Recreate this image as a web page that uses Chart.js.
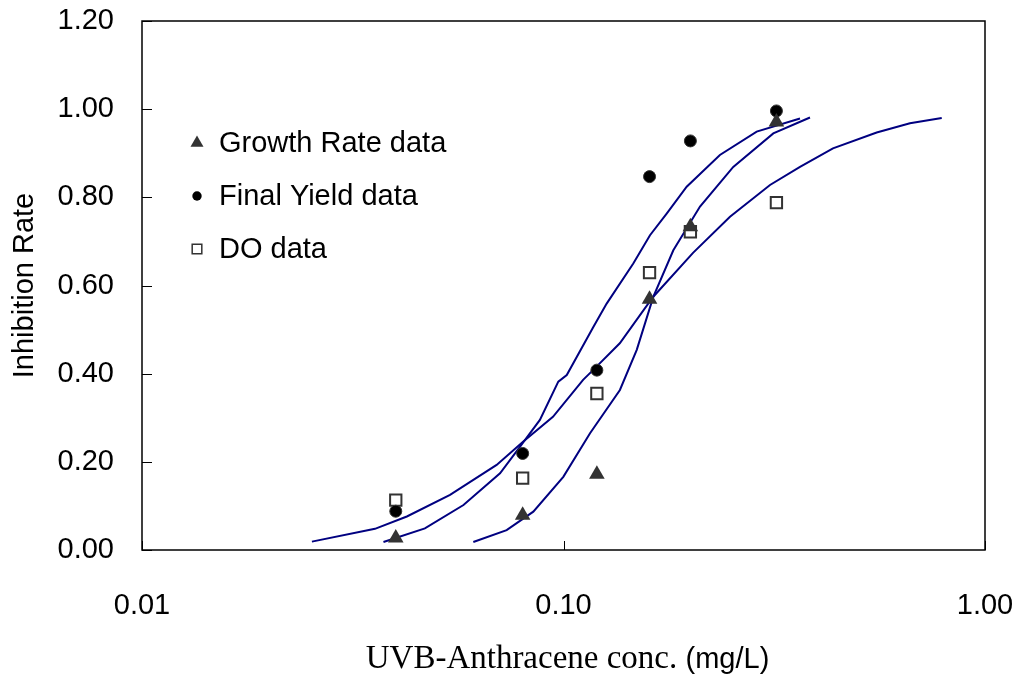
<!DOCTYPE html>
<html>
<head>
<meta charset="utf-8">
<script src="https://cdn.jsdelivr.net/npm/chart.js@4.4.1/dist/chart.umd.min.js"></script>
<style>
	body	{ margin: 0; background: #fff; }
	canvas	{ display: block; }
</style>
</head>
<body>
<canvas id="chart" width="1013" height="678"></canvas>
<script>
// measured points
const conc			= [ 0.04, 0.08, 0.12, 0.16, 0.20, 0.32 ];
const growthRate	= [ 0.027, 0.079, 0.172, 0.569, 0.733, 0.971 ];
const finalYield	= [ 0.088, 0.219, 0.408, 0.847, 0.928, 0.996 ];
const doData		= [ 0.113, 0.163, 0.355, 0.629, 0.722, 0.788 ];

// fitted curves
const growthFitX	= [ 0.0611, 0.0733, 0.0848, 0.0999, 0.1156, 0.1361, 0.1492, 0.1633, 0.1822, 0.2108, 0.2528, 0.3146, 0.3844 ];
const growthFitY	= [ 0.018, 0.045, 0.087, 0.166, 0.265, 0.363, 0.454, 0.574, 0.680, 0.779, 0.869, 0.945, 0.981 ];

const yieldFitX		= [ 0.0374, 0.0469, 0.0579, 0.0707, 0.0788, 0.0879, 0.0972, 0.1018, 0.1177, 0.1266, 0.1464, 0.1604, 0.1757, 0.196, 0.235, 0.2873, 0.364 ];
const yieldFitY		= [ 0.018, 0.049, 0.102, 0.174, 0.234, 0.295, 0.382, 0.397, 0.506, 0.559, 0.650, 0.714, 0.763, 0.824, 0.896, 0.949, 0.979 ];

const doFitX		= [ 0.0253, 0.0357, 0.0425, 0.0538, 0.0694, 0.0803, 0.0944, 0.1113, 0.1175, 0.136, 0.1631, 0.2029, 0.2483, 0.309, 0.364, 0.4358, 0.5534, 0.6637, 0.7895 ];
const doFitY		= [ 0.019, 0.048, 0.076, 0.125, 0.193, 0.246, 0.302, 0.386, 0.408, 0.469, 0.574, 0.674, 0.756, 0.828, 0.869, 0.911, 0.947, 0.968, 0.980 ];

const xTicks	= [ 0.01, 0.1, 1 ];
const yTicks	= [ 0, 0.2, 0.4, 0.6, 0.8, 1.0, 1.2 ];

const LINE_COLOR	= '#000080';
const FONT		= 'Liberation Sans';

function pts( xs, ys ) {
	return xs.map( ( x, i ) => ( { x: x, y: ys[ i ] } ) );
}

function fitLine( xs, ys ) {
	return {
		data: pts( xs, ys ),
		showLine: true,
		borderColor: LINE_COLOR,
		borderWidth: 2,
		pointRadius: 0,
		tension: 0,
		fill: false
	};
}

// fixed axis box sizes, no label overflow padding
function fixSize( s, w, h ) {
	if ( w ) s.width = w;
	if ( h ) s.height = h;
	s.paddingTop	= 0;
	s.paddingBottom	= 0;
	s.paddingLeft	= 0;
	s.paddingRight	= 0;
}

// box round the plot and the short inside ticks
const framePlugin = {
	id: 'frame',
	beforeDatasetsDraw( chart ) {
		const ctx	= chart.ctx;
		const a		= chart.chartArea;
		const xs	= chart.scales.x;
		const ys	= chart.scales.y;

		ctx.save();
		ctx.strokeStyle	= '#000';
		ctx.lineWidth	= 1.5;
		ctx.strokeRect( a.left, a.top, a.right - a.left, a.bottom - a.top );

		ctx.lineWidth	= 1;
		ctx.beginPath();
		for ( const v of yTicks ) {
			let y = Math.round( ys.getPixelForValue( v ) ) + 0.5;
			ctx.moveTo( a.left, y );
			ctx.lineTo( a.left + 10, y );
		}
		for ( const v of xTicks ) {
			let x = Math.round( xs.getPixelForValue( v ) ) + 0.5;
			ctx.moveTo( x, a.bottom );
			ctx.lineTo( x, a.bottom - 9 );
		}
		ctx.stroke();
		ctx.restore();
	}
};

// legend inside the plot, upper left
const legendPlugin = {
	id: 'innerLegend',
	afterDraw( chart ) {
		const ctx	= chart.ctx;
		const a		= chart.chartArea;
		const sizes	= [ 7.5, 4.7, 6.8 ];

		ctx.save();
		for ( let i = 0; i < 3; i++ ) {
			const ds	= chart.data.datasets[ i ];
			const y		= a.top + 122 + i * 53;
			const x		= a.left + 55;

			ctx.fillStyle	= ds.backgroundColor;
			ctx.strokeStyle	= ds.borderColor;
			ctx.lineWidth	= 1.5;
			Chart.helpers.drawPoint( ctx, {
				pointStyle: ds.pointStyle,
				radius: sizes[ i ],
				rotation: 0,
				borderWidth: ds.pointStyle === 'rect' ? 1.5 : 0
			}, x, y );

			ctx.fillStyle		= '#000';
			ctx.font			= '29px ' + FONT;
			ctx.textBaseline	= 'middle';
			ctx.textAlign		= 'left';
			ctx.fillText( ds.label, x + 22, y + 1 );
		}
		ctx.restore();
	}
};

// x title: serif part then sans part, as in the source
const xTitlePlugin = {
	id: 'xTitle',
	afterDraw( chart ) {
		const ctx	= chart.ctx;
		const a		= chart.chartArea;
		const p1	= 'UVB-Anthracene conc. ';
		const p2	= '(mg/L)';
		const f1	= '33px "Liberation Serif"';
		const f2	= '29px ' + FONT;

		ctx.save();
		ctx.fillStyle		= '#000';
		ctx.textBaseline	= 'alphabetic';
		ctx.textAlign		= 'left';
		ctx.font	= f1;
		let w1		= ctx.measureText( p1 ).width;
		ctx.font	= f2;
		let w2		= ctx.measureText( p2 ).width;
		let x0		= ( a.left + a.right ) / 2 + 4 - ( w1 + w2 ) / 2;

		ctx.font	= f1;
		ctx.fillText( p1, x0, 668 );
		ctx.font	= f2;
		ctx.fillText( p2, x0 + w1, 668 );
		ctx.restore();
	}
};

Chart.defaults.font.family	= FONT;
Chart.defaults.color		= '#000';

const datasets = [
	{
		label: 'Growth Rate data',
		data: pts( conc, growthRate ),
		pointStyle: 'triangle',
		pointRadius: 9,
		backgroundColor: '#333333',
		borderColor: '#333333',
		borderWidth: 0,
		showLine: false
	},
	{
		label: 'Final Yield data',
		data: pts( conc, finalYield ),
		pointStyle: 'circle',
		pointRadius: 6,
		backgroundColor: '#000000',
		borderColor: '#333333',
		borderWidth: 1,
		showLine: false
	},
	{
		label: 'DO data',
		data: pts( conc, doData ),
		pointStyle: 'rect',
		pointRadius: 8,
		backgroundColor: '#ffffff',
		borderColor: '#333333',
		borderWidth: 2,
		showLine: false
	},
	fitLine( growthFitX, growthFitY ),
	fitLine( yieldFitX, yieldFitY ),
	fitLine( doFitX, doFitY )
];

new Chart( document.getElementById( 'chart' ), {
	type: 'scatter',
	data: { datasets: datasets },
	options: {
		responsive: false,
		animation: false,
		devicePixelRatio: 1,
		layout: {
			autoPadding: false,
			padding: { left: 0, top: 21, right: 28, bottom: 0 }
		},
		plugins: {
			legend: { display: false },
			tooltip: { enabled: false }
		},
		scales: {
			x: {
				type: 'logarithmic',
				min: 0.01,
				max: 1,
				grid: { display: false, drawTicks: false },
				border: { display: false },
				afterBuildTicks: s => { s.ticks = xTicks.map( v => ( { value: v } ) ); },
				afterFit: s => fixSize( s, 0, 128 ),
				ticks: {
					padding: 39,
					font: { size: 29 },
					callback: v => Number( v ).toFixed( 2 )
				}
			},
			y: {
				min: 0,
				max: 1.2,
				grid: { display: false, drawTicks: false },
				border: { display: false },
				afterBuildTicks: s => { s.ticks = yTicks.map( v => ( { value: v } ) ); },
				afterFit: s => fixSize( s, 142, 0 ),
				ticks: {
					padding: 28,
					font: { size: 29 },
					callback: v => Number( v ).toFixed( 2 )
				},
				title: {
					display: true,
					text: 'Inhibition Rate',
					font: { size: 29 },
					padding: { top: 8, bottom: 0 }
				}
			}
		}
	},
	plugins: [ framePlugin, legendPlugin, xTitlePlugin ]
} );
</script>
</body>
</html>
